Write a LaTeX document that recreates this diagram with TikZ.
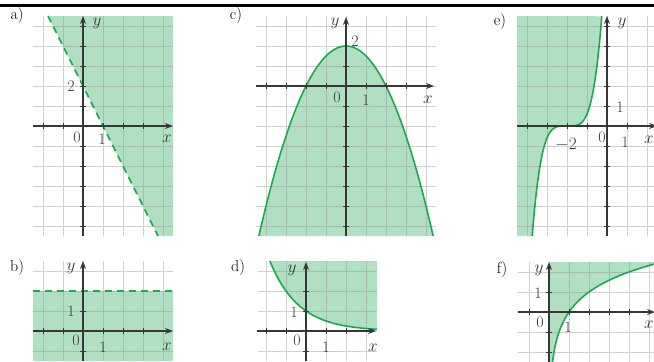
\documentclass[tikz,border=0pt]{standalone}
\usetikzlibrary{arrows.meta}
\definecolor{shadec}{RGB}{176,223,194}
\definecolor{curvec}{RGB}{30,168,80}
\definecolor{gridc}{RGB}{150,150,150}
\definecolor{axisc}{RGB}{55,55,55}
\tikzset{
  region/.style={fill=shadec},
  gridl/.style={draw=gridc,opacity=0.45,line width=0.8bp,step=1},
  graph/.style={draw=curvec,line width=1.6bp},
  dashgraph/.style={draw=curvec,line width=1.6bp,dash pattern=on 7bp off 5bp},
  axisline/.style={draw=axisc,line width=1.1bp,-{Stealth[length=8bp,width=6bp]}},
  tk/.style={draw=axisc,line width=1bp},
  lbl/.style={font=\fontsize{16}{18}\selectfont,text=axisc,inner sep=0pt},
  plbl/.style={font=\fontsize{16}{18}\selectfont,inner sep=0pt},
}
\begin{document}
\begin{tikzpicture}[x=1bp,y=1bp]
\useasboundingbox (0,0) rectangle (654,-361);
\clip (0,0) rectangle (654,-361);
\fill[black] (0,-3.5) rectangle (654,-6.5);
% panel labels
\node[plbl] (la) at (17,-16) {a)};
\node[plbl] (lb) at (17,-268) {b)};
\node[plbl] (lc) at (236,-16) {c)};
\node[plbl] (ld) at (238,-268) {d)};
\node[plbl] (le) at (500,-22) {e)};
\node[plbl] (lf) at (502,-270) {f)};
% ---------- a ----------
\begin{scope}[shift={(83,-126)},x=20bp,y=20bp]
\fill[region] (-1.75,5.5) -- (4.5,5.5) -- (4.5,-5.5) -- (3.75,-5.5) -- cycle;
\draw[gridl] (-2.5,-5.5) grid (4.5,5.5);
\coordinate (aT) at (-1.75,5.5); \coordinate (aB) at (3.75,-5.5);
\draw[dashgraph] (aT) -- (aB);
\coordinate (axL) at (-2.5,0); \coordinate (axR) at (4.5,0);
\coordinate (ayB) at (0,-5.5); \coordinate (ayT) at (0,5.5);
\draw[axisline] (axL) -- (axR);
\draw[axisline] (ayB) -- (ayT);
\foreach \i in {-2,-1,1,2,3} \draw[tk] (\i,-0.15) -- (\i,0.15);
\foreach \j in {-5,-4,-3,-2,-1,1,2,3,4,5} \draw[tk] (-0.15,\j) -- (0.15,\j);
\node[lbl] (ay) at (0.7,5.15) {$y$};
\node[lbl] (a2) at (-0.6,2) {2};
\node[lbl] (a0) at (-0.3,-0.55) {0};
\node[lbl] (a1) at (0.95,-0.65) {1};
\node[lbl] (ax) at (4.2,-0.65) {$x$};
\end{scope}
% ---------- b ----------
\begin{scope}[shift={(83,-331)},x=20bp,y=20bp]
\fill[region] (-2.5,-1.5) rectangle (4.5,2);
\draw[gridl] (-2.5,-1.5) grid (4.5,3.5);
\coordinate (bL) at (-2.5,2); \coordinate (bR) at (4.5,2);
\draw[dashgraph] (bL) -- (bR);
\coordinate (bxL) at (-2.5,0); \coordinate (bxR) at (4.5,0);
\coordinate (byB) at (0,-1.5); \coordinate (byT) at (0,3.5);
\draw[axisline] (bxL) -- (bxR);
\draw[axisline] (byB) -- (byT);
\foreach \i in {-2,-1,1,2,3} \draw[tk] (\i,-0.15) -- (\i,0.15);
\foreach \j in {-1,1} \draw[tk] (-0.15,\j) -- (0.15,\j);
\node[lbl] (by) at (-0.6,3.15) {$y$};
\node[lbl] (b1y) at (-0.6,1) {1};
\node[lbl] (b0) at (-0.35,-0.45) {0};
\node[lbl] (b1) at (1,-0.8) {1};
\node[lbl] (bx) at (4.2,-0.8) {$x$};
\end{scope}
% ---------- c ----------
\begin{scope}[shift={(346,-86)},x=20bp,y=20bp]
\fill[region] plot[domain=-4.359:4.359,samples=80] (\x,{2-\x*\x/2}) -- cycle;
\draw[gridl] (-4.5,-7.5) grid (4.5,3.5);
\draw[graph] plot[domain=-4.359:4.359,samples=80] (\x,{2-\x*\x/2});
\coordinate (cxL) at (-4.5,0); \coordinate (cxR) at (4.4,0);
\coordinate (cyB) at (0,-7.5); \coordinate (cyT) at (0,3.45);
\draw[axisline] (cxL) -- (cxR);
\draw[axisline] (cyB) -- (cyT);
\foreach \i in {-4,-3,-2,-1,1,2,3} \draw[tk] (\i,-0.15) -- (\i,0.15);
\foreach \j in {-7,-6,-5,-4,-3,-2,-1,1} \draw[tk] (-0.15,\j) -- (0.15,\j);
\node[lbl] (cy) at (-0.55,3.15) {$y$};
\node[lbl] (c2) at (0.45,2.25) {2};
\node[lbl] (c0) at (-0.45,-0.55) {0};
\node[lbl] (c1) at (1,-0.7) {1};
\node[lbl] (cx) at (4.1,-0.7) {$x$};
\end{scope}
% ---------- d ----------
\begin{scope}[shift={(306,-331)},x=20bp,y=20bp]
\fill[region] (-1.81,3.5) -- plot[domain=-1.81:3.55,samples=80] (\x,{2^(-\x)}) -- (3.55,3.5) -- cycle;
\draw[gridl] (-2.4,-1.5) grid (3.55,3.5);
\draw[graph] plot[domain=-1.81:3.55,samples=80] (\x,{2^(-\x)});
\coordinate (dxL) at (-2.45,0); \coordinate (dxR) at (3.5,0);
\coordinate (dyB) at (0,-1.5); \coordinate (dyT) at (0,3.45);
\draw[axisline] (dxL) -- (dxR);
\draw[axisline] (dyB) -- (dyT);
\foreach \i in {-2,-1,1,2} \draw[tk] (\i,-0.15) -- (\i,0.15);
\foreach \j in {-1,1,2} \draw[tk] (-0.15,\j) -- (0.15,\j);
\node[lbl] (dy) at (-0.7,3.05) {$y$};
\node[lbl] (d1y) at (-0.6,0.95) {1};
\node[lbl] (d0) at (-0.45,-0.45) {0};
\node[lbl] (d1) at (1,-0.8) {1};
\node[lbl] (dx) at (3.35,-0.85) {$x$};
\end{scope}
% ---------- e ----------
\begin{scope}[shift={(607,-126)},x=20bp,y=20bp]
\fill[region] (-4.5,-5.5) -- plot[domain=-3.74:-0.26,samples=100] (\x,{0.6*(\x+2)*(\x+2)*(\x+2)*abs(\x+2)}) -- (-4.5,5.5) -- cycle;
\draw[gridl] (-4.5,-5.5) grid (3,5.5);
\draw[graph] plot[domain=-3.74:-0.26,samples=100] (\x,{0.6*(\x+2)*(\x+2)*(\x+2)*abs(\x+2)});
\coordinate (exL) at (-4.5,0); \coordinate (exR) at (2.5,0);
\coordinate (eyB) at (0,-5.5); \coordinate (eyT) at (0,5.5);
\draw[axisline] (exL) -- (exR);
\draw[axisline] (eyB) -- (eyT);
\foreach \i in {-4,-3,-2,-1,1} \draw[tk] (\i,-0.15) -- (\i,0.15);
\foreach \j in {-5,-4,-3,-2,-1,1,2,3,4,5} \draw[tk] (-0.15,\j) -- (0.15,\j);
\node[lbl] (ey) at (0.75,5.15) {$y$};
\node[lbl] (e1y) at (0.65,0.95) {1};
\node[lbl] (em2) at (-2.05,-0.95) {$-2$};
\node[lbl] (e0) at (-0.25,-0.55) {0};
\node[lbl] (e1) at (0.9,-0.8) {1};
\node[lbl] (ex) at (2.1,-0.7) {$x$};
\end{scope}
% ---------- f ----------
\begin{scope}[shift={(549,-312)},x=20bp,y=20bp]
\fill[region] (0,-2.5) -- plot[domain=0.177:5.4,samples=120] (\x,{ln(\x)/ln(2)}) -- (5.4,2.5) -- (0,2.5) -- cycle;
\draw[gridl] (-1.55,-2.5) grid (5.5,2.5);
\draw[graph] plot[domain=0.177:5.4,samples=120] (\x,{ln(\x)/ln(2)});
\coordinate (fxL) at (-1.55,0); \coordinate (fxR) at (5.3,0);
\coordinate (fyB) at (0,-2.5); \coordinate (fyT) at (0,2.5);
\draw[axisline] (fxL) -- (fxR);
\draw[axisline] (fyB) -- (fyT);
\foreach \i in {-1,1,2,3,4} \draw[tk] (\i,-0.15) -- (\i,0.15);
\foreach \j in {-2,-1,1} \draw[tk] (-0.15,\j) -- (0.15,\j);
\node[lbl] (fy) at (-0.5,2.1) {$y$};
\node[lbl] (f1y) at (-0.55,0.95) {1};
\node[lbl] (f0) at (-0.45,-0.5) {0};
\node[lbl] (f1) at (0.95,-0.75) {1};
\node[lbl] (fx) at (5.0,-0.65) {$x$};
\end{scope}
\end{tikzpicture}
\end{document}
